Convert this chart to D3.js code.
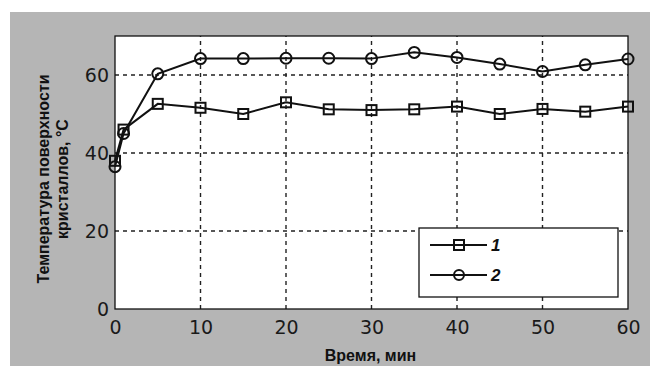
<!DOCTYPE html>
<html>
<head>
<meta charset="utf-8">
<script src="https://cdn.jsdelivr.net/npm/d3@7"></script>
<style>
  body { margin: 0; background: #fff; }
</style>
</head>
<body>
<div class="chart"></div>
<script>
// data
const times = [0, 1, 5, 10, 15, 20, 25, 30, 35, 40, 45, 50, 55, 60];
const series1 = [38, 46, 52.6, 51.6, 50, 53, 51.2, 51, 51.2, 51.9, 50, 51.3, 50.6, 51.9];
const series2 = [36.5, 45, 60.3, 64.2, 64.2, 64.3, 64.3, 64.2, 65.8, 64.5, 62.8, 60.9, 62.6, 64.1];
const xTicks = [0, 10, 20, 30, 40, 50, 60];
const yTicks = [0, 20, 40, 60];
const legendLabels = ['1', '2'];

const W = 650, H = 366;
const margin = {top: 36, right: 22, bottom: 57, left: 115};

const svg = d3.select('.chart').append('svg')
  .attr('width', W)
  .attr('height', H);

// gray background
svg.append('rect')
  .attr('x', 10).attr('y', 12)
  .attr('width', W - 10).attr('height', H - 12)
  .attr('fill', '#b5b5b5');

const x = d3.scaleLinear().domain([0, 60]).range([margin.left, W - margin.right]);
const y = d3.scaleLinear().domain([0, 70]).range([H - margin.bottom, margin.top]);

// plot area
svg.append('rect')
  .attr('x', x(0)).attr('y', y(70))
  .attr('width', x(60) - x(0)).attr('height', y(0) - y(70))
  .attr('fill', '#fff');

// dashed grid
svg.append('g').selectAll('line')
  .data(xTicks.filter(d => d > 0 && d < 60))
  .join('line')
  .attr('x1', d => x(d)).attr('x2', d => x(d))
  .attr('y1', y(0)).attr('y2', y(70))
  .attr('stroke', '#222').attr('stroke-width', 1.4)
  .attr('stroke-dasharray', '4,4');
svg.append('g').selectAll('line')
  .data(yTicks.filter(d => d > 0))
  .join('line')
  .attr('x1', x(0)).attr('x2', x(60))
  .attr('y1', d => y(d)).attr('y2', d => y(d))
  .attr('stroke', '#222').attr('stroke-width', 1.4)
  .attr('stroke-dasharray', '4,4');

// frame
svg.append('rect')
  .attr('x', x(0)).attr('y', y(70))
  .attr('width', x(60) - x(0)).attr('height', y(0) - y(70))
  .attr('fill', 'none').attr('stroke', '#111').attr('stroke-width', 1.3);

// axes
const xAxis = d3.axisBottom(x).tickValues(xTicks).tickSize(0).tickPadding(12);
const yAxis = d3.axisLeft(y).tickValues(yTicks).tickSize(0).tickPadding(6);

svg.append('g')
  .attr('transform', `translate(0,${y(0)})`)
  .call(xAxis)
  .call(g => g.select('.domain').remove())
  .selectAll('text')
  .attr('font-family', 'DejaVu Sans').attr('font-size', 19).attr('fill', '#1a1a1a');

svg.append('g')
  .attr('transform', `translate(${x(0)},0)`)
  .call(yAxis)
  .call(g => g.select('.domain').remove())
  .selectAll('text')
  .attr('font-family', 'DejaVu Sans').attr('font-size', 19).attr('fill', '#1a1a1a');

// lines
const line = d3.line().x((d, i) => x(times[i])).y(d => y(d));

[series1, series2].forEach(s => {
  svg.append('path')
    .datum(s)
    .attr('d', line)
    .attr('fill', 'none')
    .attr('stroke', '#111')
    .attr('stroke-width', 2);
});

// markers
const sq = 10;
svg.append('g').selectAll('rect')
  .data(series1)
  .join('rect')
  .attr('x', (d, i) => x(times[i]) - sq / 2)
  .attr('y', d => y(d) - sq / 2)
  .attr('width', sq).attr('height', sq)
  .attr('fill', 'none').attr('stroke', '#111').attr('stroke-width', 2);

svg.append('g').selectAll('circle')
  .data(series2)
  .join('circle')
  .attr('cx', (d, i) => x(times[i]))
  .attr('cy', d => y(d))
  .attr('r', 5.5)
  .attr('fill', 'none').attr('stroke', '#111').attr('stroke-width', 2);

// axis titles
svg.append('text')
  .attr('x', (x(0) + x(60)) / 2 - 1)
  .attr('y', 361)
  .attr('text-anchor', 'middle')
  .attr('font-family', 'Liberation Sans').attr('font-weight', 'bold')
  .attr('font-size', 16).attr('fill', '#111')
  .text('Время, мин');

const yTitle = svg.append('text')
  .attr('transform', 'translate(0,179) rotate(-90)')
  .attr('text-anchor', 'middle')
  .attr('font-family', 'Liberation Sans').attr('font-weight', 'bold')
  .attr('font-size', 16).attr('fill', '#111');
yTitle.append('tspan').attr('x', 0).attr('y', 49).text('Температура поверхности');
yTitle.append('tspan').attr('x', 0).attr('y', 68).text('кристаллов, °С');

// legend
const legend = svg.append('g');
legend.append('rect')
  .attr('x', 419).attr('y', 228)
  .attr('width', 199).attr('height', 69)
  .attr('fill', '#fff').attr('stroke', '#111').attr('stroke-width', 1.3);

legendLabels.forEach((lab, i) => {
  const ly = 245 + i * 30;
  legend.append('line')
    .attr('x1', 430).attr('x2', 487)
    .attr('y1', ly).attr('y2', ly)
    .attr('stroke', '#111').attr('stroke-width', 2);
  if (i === 0) {
    legend.append('rect')
      .attr('x', 459 - sq / 2).attr('y', ly - sq / 2)
      .attr('width', sq).attr('height', sq)
      .attr('fill', 'none').attr('stroke', '#111').attr('stroke-width', 2);
  } else {
    legend.append('circle')
      .attr('cx', 459).attr('cy', ly).attr('r', 5)
      .attr('fill', 'none').attr('stroke', '#111').attr('stroke-width', 2);
  }
  legend.append('text')
    .attr('x', 491).attr('y', ly + 6)
    .attr('font-family', 'Liberation Sans').attr('font-weight', 'bold')
    .attr('font-style', 'italic').attr('font-size', 17).attr('fill', '#111')
    .text(lab);
});
</script>
</body>
</html>
